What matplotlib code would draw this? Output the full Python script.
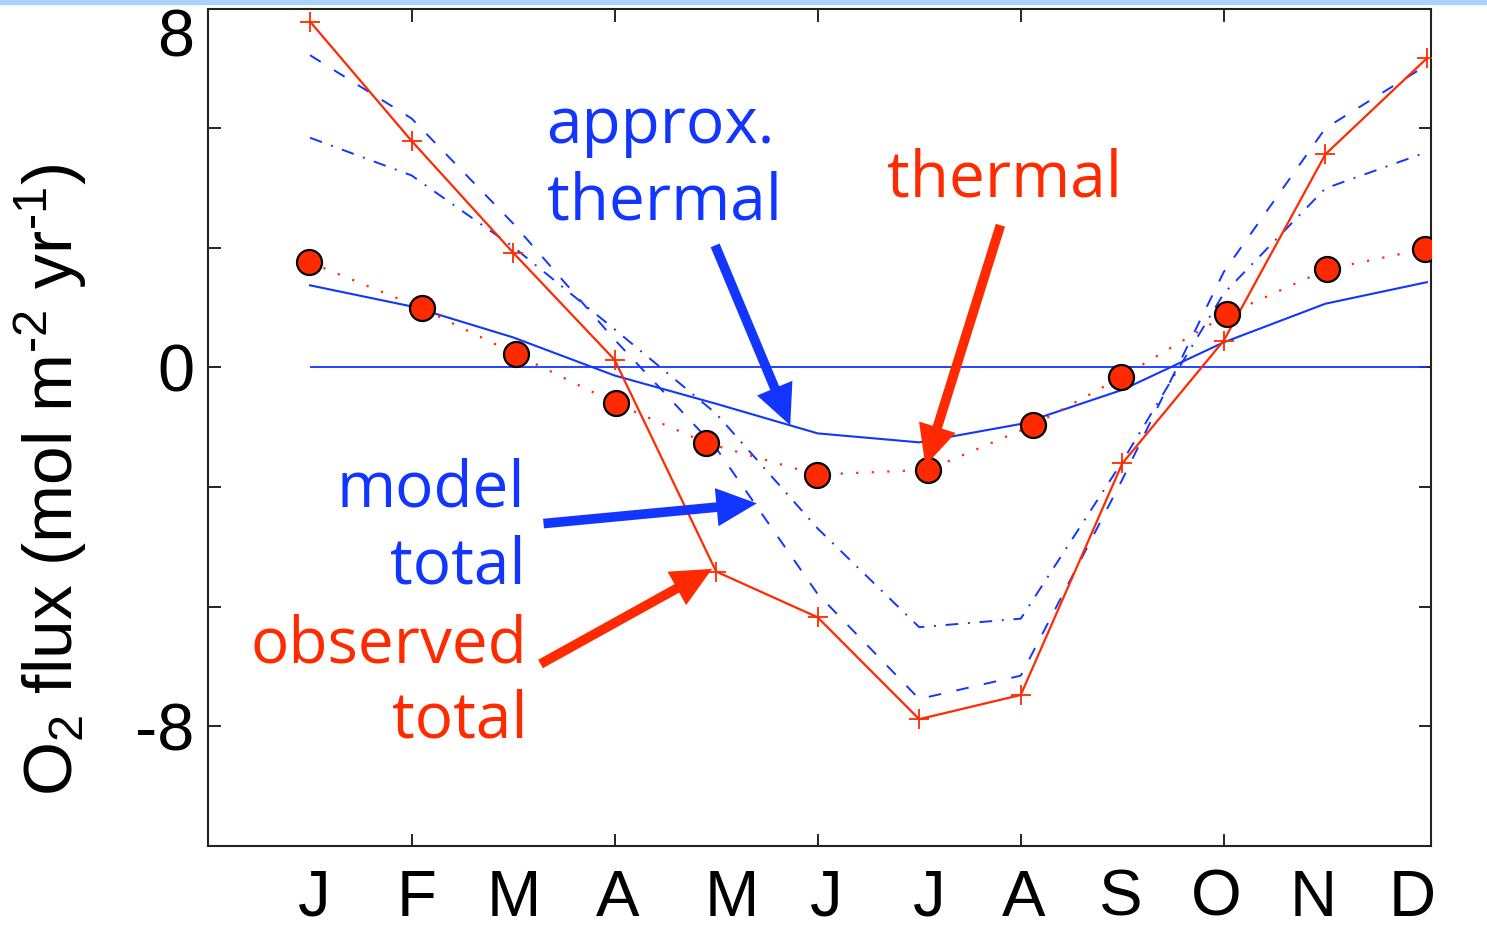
import matplotlib
matplotlib.use("Agg")
import matplotlib.pyplot as plt
from matplotlib.patches import Rectangle
from matplotlib import font_manager

# monthly O2 flux (mol m-2 yr-1)
months = [1, 2, 3, 4, 5, 6, 7, 8, 9, 10, 11, 12]
month_labels = ["J", "F", "M", "A", "M", "J", "J", "A", "S", "O", "N", "D"]

obs_total = [7.71, 5.05, 2.56, 0.17, -4.55, -5.57, -7.84, -7.30, -2.14, 0.60, 4.75, 6.89]
model_total = [6.96, 5.55, 3.21, 0.62, -1.80, -5.05, -7.39, -6.87, -2.50, 2.13, 5.33, 6.74]
model_dashdot = [5.12, 4.28, 2.69, 0.85, -1.03, -3.59, -5.79, -5.60, -2.10, 1.65, 3.99, 4.80]
approx_thermal = [1.83, 1.36, 0.67, -0.18, -0.81, -1.47, -1.67, -1.26, -0.50, 0.56, 1.42, 1.90]

thermal_x = [0.99, 2.10, 3.03, 4.01, 4.90, 5.99, 7.09, 8.12, 8.99, 10.03, 11.02, 11.98]
thermal = [2.35, 1.32, 0.29, -0.80, -1.68, -2.39, -2.28, -1.29, -0.22, 1.18, 2.19, 2.64]

# where the month letters sit under the axis (hand placed in the original)
label_x = [1.04, 2.05, 3.01, 4.03, 5.15, 6.08, 7.10, 8.03, 8.99, 9.93, 10.88, 11.86]

BLUE = "#1236ff"
RED = "#ff2a00"

names = {f.name for f in font_manager.fontManager.ttflist}
narrow = "Liberation Sans Narrow" if "Liberation Sans Narrow" in names else "Liberation Sans"
plt.rcParams["font.family"] = [narrow, "DejaVu Sans"]
plt.rcParams["axes.unicode_minus"] = False
plt.rcParams["mathtext.fontset"] = "custom"
plt.rcParams["mathtext.rm"] = narrow
plt.rcParams["mathtext.it"] = narrow

fig = plt.figure(figsize=(14.87, 9.26), dpi=100)
ax = fig.add_axes([0.1402, 0.0864, 0.8221, 0.9044])

# light blue strip along the top edge
fig.patches.append(Rectangle((0, 1 - 4 / 926), 1, 4 / 926, transform=fig.transFigure,
                             color="#a9d4fa", zorder=0))

ax.hlines(0, months[0], months[-1], color=BLUE, lw=1.3, zorder=2)
ax.plot(months, approx_thermal, color=BLUE, lw=1.5, zorder=2)
ax.plot(months, model_total, color=BLUE, lw=1.4, dashes=(6.5, 8), zorder=2)
ax.plot(months, model_dashdot, color=BLUE, lw=1.4, dashes=(6.5, 5, 1, 5), zorder=2)
ax.plot(months, obs_total, color=RED, lw=1.6, marker="+", ms=14, mew=1.3, zorder=3)
ax.plot(thermal_x, thermal, color=RED, lw=1.6, dashes=(1, 6), zorder=3)
ax.plot(thermal_x, thermal, ls="none", marker="o", ms=18, mfc=RED, mec="black",
        mew=1.6, zorder=4)

ax.set_xlim(0, 12.04)
ax.set_ylim(-32 / 3, 8)

ax.set_xticks([2, 4, 6, 8, 10])
ax.set_xticklabels([])
ax.tick_params(axis="x", direction="in", length=9, width=1.2, top=True, bottom=True)
for x, lab in zip(label_x, month_labels):
    ax.text(x, -0.063, lab, transform=ax.get_xaxis_transform(), ha="center",
            va="center", fontsize=47)

yt = [-8 + i * 8 / 3 for i in range(7)]
ax.set_yticks(yt)
ax.set_yticklabels(["-8", "", "", "0", "", "", "8"], fontsize=48)
ax.tick_params(axis="y", direction="in", length=9, width=1.2, left=True,
               right=True, pad=10)
ax.get_yticklabels()[-1].set_verticalalignment("top")

for s in ax.spines.values():
    s.set_linewidth(1.5)
    s.set_color("#222222")

fig.text(51 / 1487, 1 - 480 / 926, "O$_2$ flux (mol m$^{\u20102}$ yr$^{\u20101}$)",
         rotation=90, ha="center", va="center", fontsize=50)

tf = {"fontsize": 46, "family": ["Open Sans", "DejaVu Sans"]}
ax.text(3.33, 5.0, "approx.", color=BLUE, ha="left", va="baseline", **tf)
ax.text(3.33, 3.3, "thermal", color=BLUE, ha="left", va="baseline", **tf)
ax.text(6.68, 3.8, "thermal", color=RED, ha="left", va="baseline", **tf)
ax.text(3.12, -3.1, "model", color=BLUE, ha="right", va="baseline", **tf)
ax.text(3.12, -4.82, "total", color=BLUE, ha="right", va="baseline", **tf)
ax.text(3.14, -6.58, "observed", color=RED, ha="right", va="baseline", **tf)
ax.text(3.14, -8.25, "total", color=RED, ha="right", va="baseline", **tf)

arrow = "simple,head_length=1.0,head_width=0.95,tail_width=0.24"
for tail, tip, col in [((4.99, 2.72), (5.73, -1.29), BLUE),
                       ((7.80, 3.17), (7.06, -2.19), RED),
                       ((3.30, -3.48), (5.40, -3.03), BLUE),
                       ((3.27, -6.61), (4.96, -4.49), RED)]:
    ax.annotate("", xy=tip, xytext=tail,
                arrowprops=dict(arrowstyle=arrow, fc=col, ec="none", lw=0,
                                shrinkA=0, shrinkB=0, mutation_scale=29),
                zorder=5)

fig.savefig("out.png", dpi=100)
